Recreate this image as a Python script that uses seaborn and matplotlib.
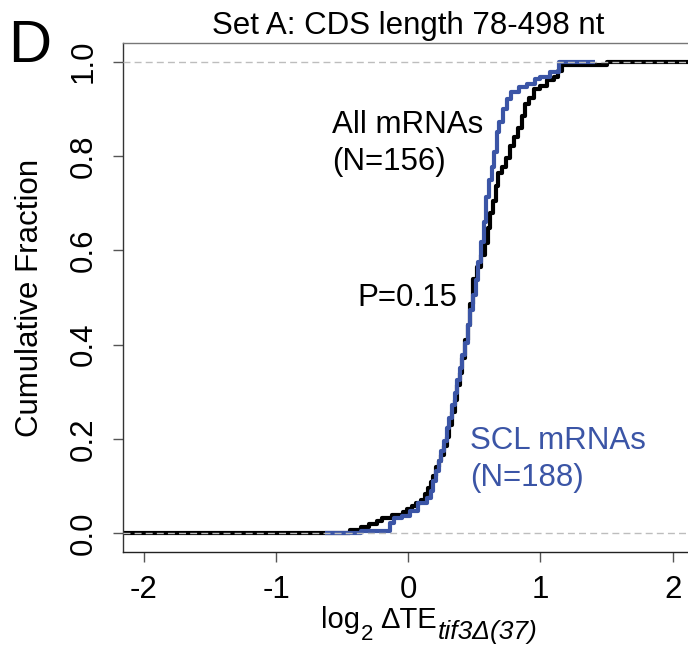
import matplotlib
matplotlib.use("Agg")
import matplotlib.pyplot as plt
import pandas as pd
import seaborn as sns

# ECDF knots: log2 dTE value and how many mRNAs sit there
all_vals = [-0.44, -0.36, -0.30, -0.24, -0.20, -0.12, -0.04, -0.01, 0.03, 0.06,
            0.10, 0.13, 0.15, 0.17, 0.19, 0.21, 0.23, 0.25, 0.27, 0.29,
            0.31, 0.33, 0.35, 0.37, 0.39, 0.41, 0.43, 0.45, 0.47, 0.49,
            0.52, 0.55, 0.58, 0.60, 0.62, 0.64, 0.66, 0.68, 0.71, 0.74,
            0.77, 0.80, 0.83, 0.86, 0.88, 0.91, 0.95, 1.00, 1.05, 1.10,
            1.13, 1.16, 1.50]
all_counts = [1, 1, 1, 1, 1, 1, 1, 1, 1, 1,
              1, 2, 2, 2, 2, 3, 2, 2, 3, 3,
              4, 4, 4, 5, 4, 5, 6, 5, 7, 8,
              4, 4, 4, 5, 5, 4, 5, 4, 2, 3,
              4, 3, 3, 4, 4, 2, 3, 1, 2, 1,
              2, 2, 1]

scl_vals = [-0.36, -0.14, -0.11, -0.05, 0.01, 0.07, 0.14, 0.17, 0.19, 0.21,
            0.23, 0.25, 0.27, 0.29, 0.31, 0.33, 0.35, 0.37, 0.39, 0.41,
            0.43, 0.45, 0.47, 0.49, 0.51, 0.53, 0.55, 0.57, 0.59, 0.61,
            0.63, 0.65, 0.67, 0.69, 0.72, 0.75, 0.78, 0.84, 0.90, 0.96,
            1.00, 1.07, 1.14]
scl_counts = [1, 3, 2, 1, 2, 3, 2, 3, 4, 4,
              4, 4, 4, 5, 4, 5, 5, 5, 5, 5,
              5, 7, 6, 6, 6, 7, 8, 8, 10, 7,
              5, 6, 8, 4, 5, 4, 3, 2, 1, 2,
              1, 2, 4]

x_ticks = [-2, -1, 0, 1, 2]
y_ticks = [0.0, 0.2, 0.4, 0.6, 0.8, 1.0]
y_ticklabels = ["0.0", "0.2", "0.4", "0.6", "0.8", "1.0"]

BLUE = "#3B55A6"
LW = 3.0
FS = 22.5
XLIM = (-2.16, 2.16)
YLIM = (-0.04, 1.04)
SCL_PAD = 0.27  # how far the blue step line runs past its first/last value
W, H = 688, 646

sns.set_theme(style="ticks")
plt.rcParams["font.family"] = ["Liberation Sans", "DejaVu Sans"]
plt.rcParams["text.color"] = "black"
plt.rcParams["axes.labelcolor"] = "black"

all_df = pd.DataFrame({"value": all_vals, "n": all_counts})
scl_df = pd.DataFrame({"value": scl_vals, "n": scl_counts})

fig = plt.figure(figsize=(W / 100, H / 100), dpi=100)
ax = fig.add_axes([0.1783, 0.1450, 0.8302, 0.7889])

sns.ecdfplot(data=all_df, x="value", weights="n", ax=ax, color="black",
             lw=LW, zorder=2)
sns.ecdfplot(data=scl_df, x="value", weights="n", ax=ax, color=BLUE,
             lw=LW, zorder=3)

# flat tails of the step curves
ax.plot([XLIM[0], all_df.value.min()], [0, 0], color="black", lw=LW,
        solid_capstyle="butt", zorder=2)
ax.plot([all_df.value.max(), XLIM[1]], [1, 1], color="black", lw=LW,
        solid_capstyle="butt", zorder=2)
ax.plot([scl_df.value.min() - SCL_PAD, scl_df.value.min()], [0, 0],
        color=BLUE, lw=LW, solid_capstyle="butt", zorder=3)
ax.plot([scl_df.value.max(), scl_df.value.max() + SCL_PAD], [1, 1],
        color=BLUE, lw=LW, solid_capstyle="butt", zorder=3)

for yref in (0, 1):
    ax.axhline(yref, color="#BDBDBD", lw=1.0, ls=(0, (5, 3)), zorder=5)

ax.set_xlim(*XLIM)
ax.set_ylim(*YLIM)
ax.set_xticks(x_ticks)
ax.set_xticklabels([str(t) for t in x_ticks])
ax.set_yticks(y_ticks)
ax.set_yticklabels(y_ticklabels, rotation=90, va="center")
ax.tick_params(direction="out", length=7, width=1, color="#555555",
               labelsize=FS, labelcolor="black", pad=9)
ax.tick_params(axis="y", pad=10)
ax.set_xlabel("")
ax.set_ylabel("Cumulative Fraction", fontsize=FS, labelpad=17)

for side, col in (("left", "#333333"), ("bottom", "#222222"),
                  ("top", "#777777"), ("right", "#777777")):
    ax.spines[side].set_color(col)
    ax.spines[side].set_linewidth(1.0)

ax.text(-0.577, 0.848, "All mRNAs", fontsize=FS, color="black", va="baseline")
ax.text(-0.577, 0.770, "(N=156)", fontsize=FS, color="black", va="baseline")
ax.text(-0.388, 0.483, "P=0.15", fontsize=FS, color="black", va="baseline")
ax.text(0.469, 0.179, "SCL mRNAs", fontsize=FS, color=BLUE, va="baseline")
ax.text(0.469, 0.101, "(N=188)", fontsize=FS, color=BLUE, va="baseline")

# x label built piece by piece: log, subscript 2, delta TE, italic subscript
renderer = fig.canvas.get_renderer()


def put(x_px, base_px, s, size, **kw):
    t = fig.text(x_px / W, 1 - base_px / H, s, fontsize=size,
                 va="baseline", **kw)
    return t.get_window_extent(renderer).x1


x = put(321, 628, "log", 21)
x = put(x + 1, 640, "2", 16)
x = put(x + 7, 628, "\u0394TE", 21)
put(x + 1, 639, "tif3\u0394(37)", 19, style="italic")

fig.text(408 / W, 1 - 34 / H, "Set A: CDS length 78-498 nt",
         fontsize=FS, ha="center", va="baseline")
fig.text(8 / W, 1 - 62 / H, "D", fontsize=43, va="baseline")

fig.savefig("out.png", dpi=100)
